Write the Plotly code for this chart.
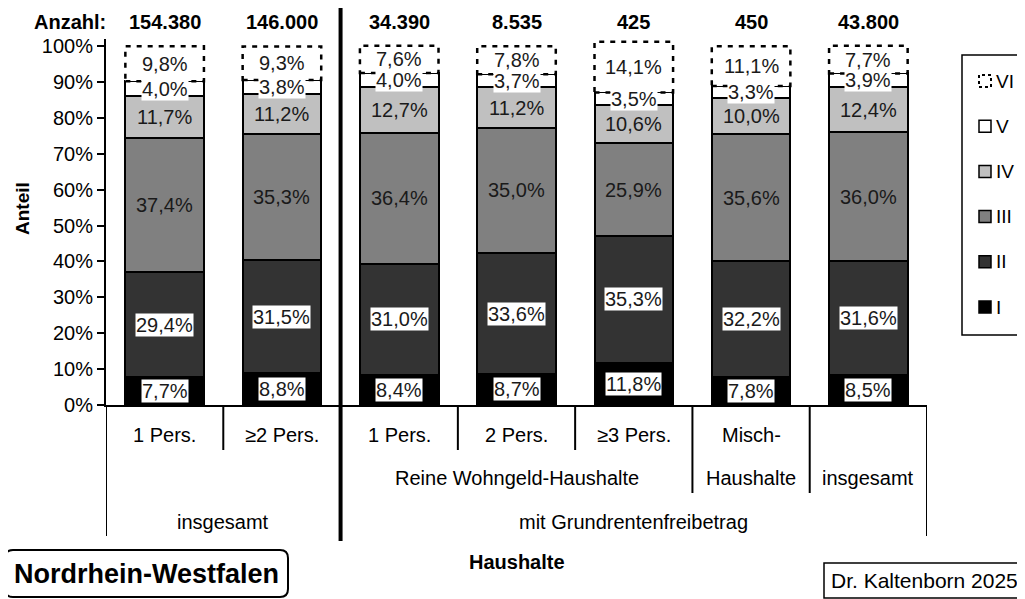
import plotly.graph_objects as go

# ---------------- data ----------------
categories = ["1 Pers.", "≥2 Pers.", "1 Pers.", "2 Pers.", "≥3 Pers.", "Misch-Haushalte", "insgesamt"]
counts = [154380, 146000, 34390, 8535, 425, 450, 43800]
series_names = ["I", "II", "III", "IV", "V", "VI"]
s_I = [7.7, 8.8, 8.4, 8.7, 11.8, 7.8, 8.5]
s_II = [29.4, 31.5, 31.0, 33.6, 35.3, 32.2, 31.6]
s_III = [37.4, 35.3, 36.4, 35.0, 25.9, 35.6, 36.0]
s_IV = [11.7, 11.2, 12.7, 11.2, 10.6, 10.0, 12.4]
s_V = [4.0, 3.8, 4.0, 3.7, 3.5, 3.3, 3.9]
s_VI = [9.8, 9.3, 7.6, 7.8, 14.1, 11.1, 7.7]
series_values = [s_I, s_II, s_III, s_IV, s_V, s_VI]
row1_labels = ["1 Pers.", "≥2 Pers.", "1 Pers.", "2 Pers.", "≥3 Pers.", "Misch-", ""]
y_ticks = [0, 10, 20, 30, 40, 50, 60, 70, 80, 90, 100]

# ---------------- style ----------------
colors = ["#000000", "#333333", "#808080", "#c0c0c0", "#ffffff", "#ffffff"]
label_bg = [True, True, False, False, True, False]
FONT = "Liberation Sans, Arial, sans-serif"
OFF = 8                      # default page body margin
W, H = 1025 - OFF, 599 - OFF
L, T = 106 - OFF, 39 - OFF   # plot area left/top in figure pixels
PW, PH = 821, 366
R, B = W - L - PW, H - T - PH
BW = 0.67


def px(x):   # page pixel x -> paper
    return (x - 106) / PW


def py(y):   # page pixel y -> paper
    return (405 - y) / PH


def fmt_pct(v):
    return f"{v:.1f}".replace(".", ",") + "%"


def fmt_int(v):
    return f"{v:,}".replace(",", ".")


xs = list(range(len(categories)))
fig = go.Figure()
for k, (name, vals) in enumerate(zip(series_names, series_values)):
    fig.add_trace(go.Bar(
        x=xs, y=vals, name=name, width=BW,
        marker=dict(color=colors[k],
                    line=dict(color="black", width=0 if name == "VI" else 2)),
        showlegend=False, hoverinfo="skip",
    ))

shapes = []
annotations = []


def ann(**kw):
    d = dict(showarrow=False, xanchor="center", yanchor="middle")
    d.update(kw)
    annotations.append(d)


def open_box(xl, xr, yt, yb, width=1.5):
    """white box whose right side runs off the page (no right edge)."""
    shapes.append(dict(type="rect", xref="paper", yref="paper", x0=px(xl), x1=px(xr),
                       y0=py(yb), y1=py(yt), line=dict(width=0), fillcolor="white", layer="below"))
    shapes.append(dict(type="path", xref="paper", yref="paper",
                       path=f"M {px(xr)},{py(yt)} L {px(xl)},{py(yt)} L {px(xl)},{py(yb)} L {px(xr)},{py(yb)}",
                       line=dict(color="black", width=width)))


# cumulative bases
bases = []
cum = [0.0] * len(xs)
for vals in series_values:
    bases.append(cum[:])
    cum = [c + v for c, v in zip(cum, vals)]

# dashed outlines for VI
for i in xs:
    y0 = bases[5][i]
    y1 = y0 + s_VI[i]
    shapes.append(dict(type="rect", xref="x", yref="y", x0=i - BW / 2, x1=i + BW / 2,
                       y0=y0, y1=y1, line=dict(color="black", width=2.5, dash="5px,6px"),
                       fillcolor="rgba(0,0,0,0)", layer="above"))

# data labels
for k, vals in enumerate(series_values):
    for i in xs:
        mid = bases[k][i] + vals[i] / 2
        ann(x=i, y=mid, xref="x", yref="y", text=fmt_pct(vals[i]),
            font=dict(family=FONT, size=20, color="#1a1a1a"),
            bgcolor="white" if label_bg[k] else None, borderpad=0)

# Anzahl labels
ann(x=px(108), y=py(22), xref="paper", yref="paper", text="<b>Anzahl:</b>",
    xanchor="right", font=dict(family=FONT, size=20, color="black"))
for i in xs:
    ann(x=i, y=py(22), xref="x", yref="paper", text=f"<b>{fmt_int(counts[i])}</b>",
        font=dict(family=FONT, size=20, color="black"))

# category dividers below axis
div_specs = [(-0.5, 536), (0.5, 450), (2.5, 450), (3.5, 450),
             (4.5, 493), (5.5, 493), (6.5, 536)]
for xv, yend in div_specs:
    shapes.append(dict(type="line", xref="x", yref="paper", x0=xv, x1=xv, y0=py(405), y1=py(yend),
                       line=dict(color="black", width=2)))
shapes.append(dict(type="line", xref="x", yref="paper", x0=1.5, x1=1.5, y0=py(541), y1=py(5),
                   line=dict(color="black", width=4)))

cat_font = dict(family=FONT, size=20, color="black")
for i in xs:
    if row1_labels[i]:
        ann(x=i, y=py(435), xref="x", yref="paper", text=row1_labels[i], font=cat_font)
ann(x=3, y=py(478), xref="x", yref="paper", text="Reine Wohngeld-Haushalte", font=cat_font)
ann(x=5, y=py(478), xref="x", yref="paper", text="Haushalte", font=cat_font)
ann(x=6, y=py(478), xref="x", yref="paper", text="insgesamt", font=cat_font)
ann(x=0.5, y=py(522), xref="x", yref="paper", text="insgesamt", font=cat_font)
ann(x=4, y=py(522), xref="x", yref="paper", text="mit Grundrentenfreibetrag", font=cat_font)
ann(x=3, y=py(562), xref="x", yref="paper", text="<b>Haushalte</b>", font=cat_font)
ann(x=px(23), y=py(209), xref="paper", yref="paper", text="<b>Anteil</b>",
    textangle=-90, font=dict(family=FONT, size=19, color="black"))

# legend (manual)
open_box(962, 1040, 55, 335)
leg_order = [5, 4, 3, 2, 1, 0]
for j, k in enumerate(leg_order):
    cy = 81 + 45.2 * j
    if series_names[k] == "VI":
        line = dict(color="black", width=2, dash="3px,3px")
    else:
        line = dict(color="black", width=1.5)
    shapes.append(dict(type="rect", xref="paper", yref="paper", x0=px(979), x1=px(991),
                       y0=py(cy + 6), y1=py(cy - 6), line=line, fillcolor=colors[k]))
    ann(x=px(994), y=py(cy), xref="paper", yref="paper", text=series_names[k],
        xanchor="left", font=dict(family=FONT, size=19, color="black"))

# Nordrhein-Westfalen box (rounded)
x0, x1, y0, y1, r = 5, 288, 550, 597, 8
pts = (f"M {px(x0 + r)},{py(y0)} L {px(x1 - r)},{py(y0)} Q {px(x1)},{py(y0)} {px(x1)},{py(y0 + r)} "
       f"L {px(x1)},{py(y1 - r)} Q {px(x1)},{py(y1)} {px(x1 - r)},{py(y1)} "
       f"L {px(x0 + r)},{py(y1)} Q {px(x0)},{py(y1)} {px(x0)},{py(y1 - r)} "
       f"L {px(x0)},{py(y0 + r)} Q {px(x0)},{py(y0)} {px(x0 + r)},{py(y0)} Z")
shapes.append(dict(type="path", xref="paper", yref="paper", path=pts,
                   line=dict(color="black", width=2), fillcolor="white"))
ann(x=px((x0 + x1) / 2), y=py((y0 + y1) / 2), xref="paper", yref="paper",
    text="<b>Nordrhein-Westfalen</b>", font=dict(family=FONT, size=27, color="black"))

# Dr. Kaltenborn box
open_box(824, 1040, 563, 598)
ann(x=px(829), y=py(580.5), xref="paper", yref="paper", text="Dr. Kaltenborn 2025",
    xanchor="left", font=dict(family=FONT, size=21, color="black"))

fig.update_layout(
    barmode="stack",
    width=W, height=H,
    margin=dict(l=L, r=R, t=T, b=B, autoexpand=False),
    paper_bgcolor="white", plot_bgcolor="white",
    font=dict(family=FONT, size=20, color="black"),
    xaxis=dict(range=[-0.5, 6.5], showticklabels=False, ticks="", showgrid=False, zeroline=False,
               showline=True, linecolor="black", linewidth=2),
    yaxis=dict(range=[0, 102], tickvals=y_ticks, ticktext=[f"{v}%" for v in y_ticks],
               ticks="outside", ticklen=7, tickwidth=2, tickcolor="black",
               showgrid=False, zeroline=False, showline=True, linecolor="black", linewidth=2,
               tickfont=dict(family=FONT, size=20, color="black")),
    shapes=shapes, annotations=annotations,
)

fig.write_html("out.html")
